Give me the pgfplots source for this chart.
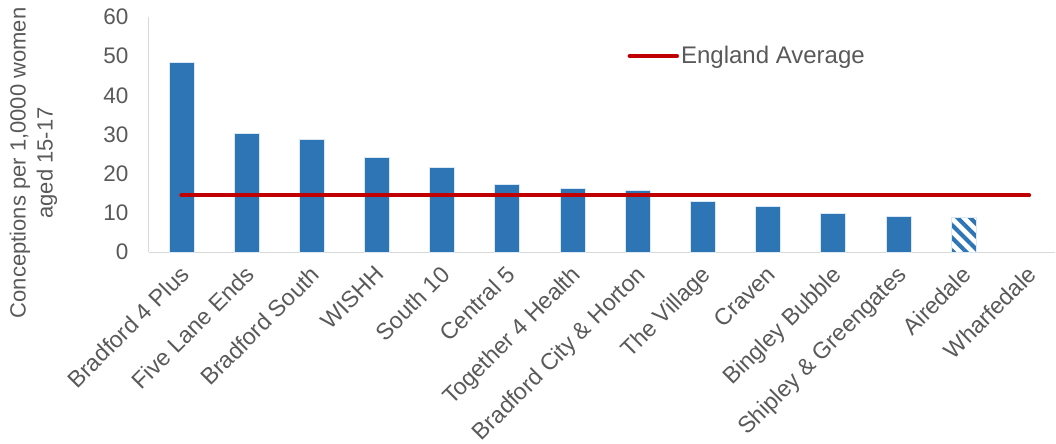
\documentclass[border=0pt]{standalone}
\usepackage{fontspec}
\setmainfont{Liberation Sans}
\usepackage{pgfplots}
\pgfplotsset{compat=1.18}
\usetikzlibrary{patterns.meta}
\definecolor{barblue}{HTML}{2E75B6}
\definecolor{baredge}{HTML}{DAE7F5}
\definecolor{avgred}{HTML}{C00000}
\definecolor{txtgray}{HTML}{595959}
\definecolor{axgray}{HTML}{D9D9D9}
\begin{document}
\begin{tikzpicture}
\begin{axis}[
  name=ax,
  scale only axis,
  width=906pt, height=235pt,
  xmin=-0.5, xmax=13.4,
  ymin=0, ymax=60,
  ytick={0,10,...,60},
  xtick={0,...,13},
  xticklabels={Bradford 4 Plus,Five Lane Ends,Bradford South,WISHH,South 10,Central 5,Together 4 Health,Bradford City \& Horton,The Village,Craven,Bingley Bubble,Shipley \& Greengates,Airedale,Wharfedale},
  axis x line*=bottom, axis y line*=left,
  axis line style={draw=axgray, line width=1pt, -},
  major tick length=0pt,
  tick style={draw=none},
  /pgf/number format/assume math mode=true,
  font=\fontsize{22}{26.4}\selectfont,
  yticklabel style={text=txtgray, font=\fontsize{22.5}{27}\selectfont, xshift=-17pt},
  xticklabel style={xshift=-3pt, yshift=-7.5pt, text=txtgray, font=\fontsize{23.2}{28}\selectfont, rotate=45, anchor=north east},
  ylabel={Conceptions per 1,0000 women\\aged 15-17},
  ylabel style={align=center, text=txtgray, at={(axis description cs:-0.1275,0.379)}, anchor=center, font=\fontsize{22}{27}\selectfont},
  legend style={draw=none, fill=none, at={(axis description cs:0.528,0.834)}, anchor=west, inner sep=0pt, text=txtgray, font=\fontsize{24}{28}\selectfont},
  legend image code/.code={\draw[#1] (0pt,0pt) -- (47pt,0pt);},
  legend cell align=left,
  clip=false,
]
\addplot[ybar, bar width=25pt, bar shift=0pt, fill=barblue, draw=baredge, line width=1pt, forget plot] coordinates {
  (0,48.3) (1,30.3) (2,28.6) (3,24.2) (4,21.7) (5,17.3) (6,16.3) (7,15.8) (8,13.0) (9,11.5) (10,9.9) (11,9.0)
};
\addplot[ybar, bar width=25pt, bar shift=0pt, fill=white, draw=baredge, line width=1pt, pattern={Lines[angle=-45,distance=9pt,line width=4pt]}, pattern color=barblue, forget plot] coordinates {
  (12,8.7)
};
\addplot[avgred, line width=4.5pt, line cap=round, mark=none] coordinates {(0,14.5) (13,14.5)};
\addlegendentry{England Average}
\end{axis}
\pgfresetboundingbox
\path[use as bounding box] ([xshift=-149pt,yshift=-192pt]ax.south west) rectangle ([xshift=1pt,yshift=17pt]ax.north east);
\end{tikzpicture}
\end{document}
